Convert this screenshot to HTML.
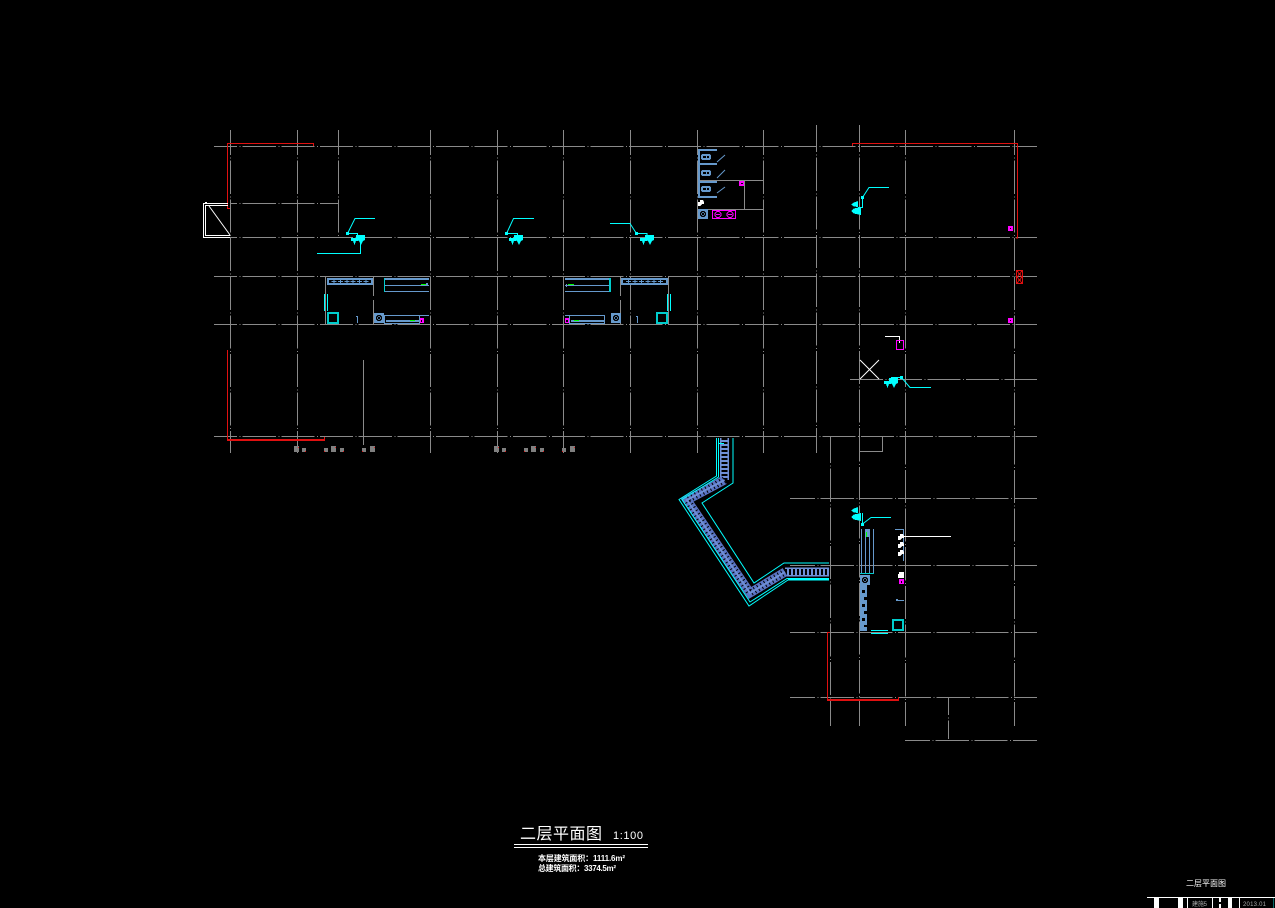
<!DOCTYPE html>
<html lang="zh">
<head>
<meta charset="utf-8">
<title>二层平面图</title>
<style>
html,body{margin:0;padding:0;background:#000;width:1275px;height:908px;overflow:hidden}
svg{display:block;position:absolute;left:0;top:0}
.g{stroke:#8a8a8a;stroke-width:1;fill:none;stroke-dasharray:33.15 2.5 1 2}
.n{stroke:#8a8a8a;stroke-width:1;fill:none}
.o0{stroke-dashoffset:0}.o6{stroke-dashoffset:6}.o8{stroke-dashoffset:8}.o10{stroke-dashoffset:10}.o15{stroke-dashoffset:15}.o26{stroke-dashoffset:26}
.c{stroke:#00ffff;stroke-width:1;fill:none}
.t{stroke:#00cccc;stroke-width:1;fill:none}
.b{stroke:#6699cc;stroke-width:1;fill:none}
.r{stroke:#e01010;stroke-width:1;fill:none}
.w{stroke:#fff;stroke-width:1;fill:none}
.m{stroke:#ff00ff;stroke-width:1;fill:none}
text{font-family:"Liberation Sans","Noto Sans CJK SC",sans-serif;fill:#fff}
</style>
</head>
<body>
<svg width="1275" height="908" viewBox="0 0 1275 908" xmlns="http://www.w3.org/2000/svg" shape-rendering="crispEdges">
<defs>
  <g id="hyd"><polygon points="0,3 7,3 7,6 5,6 3.500,10 2,6 0,6" fill="#0ff"/><polygon points="5,0 14,0 14,5 12,6 10,10 8,6 5,5" fill="#0ff"/></g>
  <g id="hyl"><polygon points="7,0 7,6 3,5.500 0,3.500 3,1.500" fill="#0ff"/><polygon points="10,6 10,14 3,12.500 0,10 3,7.500" fill="#0ff"/></g>
  <g id="sq"><rect x="0" y="0" width="10" height="10" fill="#6699cc"/><circle cx="5" cy="5" r="2.600" fill="none" stroke="#000"/><path d="M3 3L7 7M7 3L3 7" stroke="#000"/></g>
  <g id="toi"><rect x="0" y="0" width="10" height="6" rx="2" fill="#6699cc"/><rect x="2" y="2" width="3" height="2" fill="#000"/><rect x="6" y="2" width="2" height="2" fill="#000"/></g>
  <g id="plus"><path d="M-2.500 0H2.500M0 -2V2" stroke="#6699cc"/></g>
  <path id="bl" d="M0 2H2V0H5L6 2V4H4L2 6H0Z" fill="#fff"/>
</defs>
<rect width="1275" height="908" fill="#000"/>

<!-- horizontal grid -->
<path class="g o10" d="M214 146.500H1037"/>
<path class="g o26" d="M230 237.500H1037"/>
<path class="g o10" d="M214 276.500H1037"/>
<path class="g o10" d="M214 324.500H1037"/>
<path class="g o10" d="M214 436.500H1037"/>
<path class="g o26" d="M230 203.500H339"/>
<path class="g o0" d="M850 379.500H1037"/>
<path class="g o8" d="M790 498.500H1037"/>
<path class="g o8" d="M790 565.500H1037"/>
<path class="g o8" d="M790 632.500H1037"/>
<path class="g o8" d="M790 697.500H1037"/>
<path class="g o8" d="M905 740.500H1037"/>

<!-- vertical grid -->
<path class="g o8" d="M230.500 130V453"/>
<path class="g o8" d="M297.500 130V453"/>
<path class="g o8" d="M338.500 130V237"/>
<path class="g o8" d="M430.500 130V453"/>
<path class="g o8" d="M497.500 130V453"/>
<path class="g o8" d="M563.500 130V453"/>
<path class="g o8" d="M630.500 130V453"/>
<path class="g o8" d="M697.500 130V453"/>
<path class="g o8" d="M763.500 130V453"/>
<path class="g o6" d="M816.500 125V453"/>
<path class="g o6" d="M859.500 125V726"/>
<path class="g o8" d="M905.500 130V726"/>
<path class="g o8" d="M1014.500 130V726"/>
<path class="g o6" d="M830.500 436V726"/>
<path class="g o15" d="M948.500 697V739"/>
<path class="n" d="M363.500 360V445"/>
<path class="n" d="M859 451.500H882.500V436"/>
<path class="n" d="M744.500 180V209M697 180.500H763M697 209.500H763"/>

<!-- unit greys -->
<path class="n" d="M325.500 276V324M373.500 276V296M373.500 300V324"/>
<path class="n" d="M620.500 276V296M620.500 300V324M668.500 276V324"/>

<!-- red -->
<path class="r" d="M230 208.500H227.500V143.500H313.500V146"/>
<path class="r" d="M227.500 350V440"/>
<rect x="227" y="439" width="98" height="2" fill="#e01010"/>
<path class="r" d="M324.500 437V440"/>
<path class="r" d="M852.500 146V143.500H1017.500V238H1016"/>
<rect class="r" x="1016.500" y="270.500" width="6" height="13"/>
<path class="r" d="M1017 271L1022 277L1017 283M1022 271L1017 277L1022 283"/>
<path class="r" d="M830 632.500H827.500V700"/>
<rect x="827" y="699" width="72" height="2" fill="#e01010"/>
<path class="r" d="M898.500 697V700"/>

<!-- door -->
<path class="w" d="M228 203.500H203.500V237.500H230M228 205.500H205.500V235.500H230"/>
<path class="w" d="M209 206L230 235" shape-rendering="auto"/>
<rect x="205" y="202" width="2" height="2" fill="#fff"/>

<!-- column markers -->
<g fill="#808080">
<rect x="294" y="446" width="5" height="6"/><rect x="302" y="448" width="4" height="4"/><rect x="324" y="448" width="4" height="4"/><rect x="331" y="446" width="5" height="6"/><rect x="340" y="448" width="4" height="4"/><rect x="362" y="448" width="4" height="4"/><rect x="370" y="446" width="5" height="6"/>
<rect x="494" y="446" width="5" height="6"/><rect x="502" y="448" width="4" height="4"/><rect x="524" y="448" width="4" height="4"/><rect x="531" y="446" width="5" height="6"/><rect x="540" y="448" width="4" height="4"/><rect x="562" y="448" width="4" height="4"/><rect x="570" y="446" width="5" height="6"/>
</g>
<g fill="#e02020">
<rect x="298" y="447" width="1" height="1"/><rect x="305" y="451" width="1" height="1"/><rect x="324" y="451" width="1" height="1"/><rect x="335" y="447" width="1" height="1"/><rect x="343" y="451" width="1" height="1"/><rect x="362" y="451" width="1" height="1"/><rect x="374" y="447" width="1" height="1"/>
<rect x="498" y="447" width="1" height="1"/><rect x="505" y="451" width="1" height="1"/><rect x="524" y="451" width="1" height="1"/><rect x="535" y="447" width="1" height="1"/><rect x="543" y="451" width="1" height="1"/><rect x="562" y="451" width="1" height="1"/><rect x="574" y="447" width="1" height="1"/>
</g>

<!-- cyan leaders and hydrants -->
<g shape-rendering="auto">
<path class="c" d="M375 218.500H355L347.500 233.500H357.500V236"/>
<path class="c" d="M360.500 237V253.500H317"/>
<path class="c" d="M534 218.500H513.500L506.500 233.500H517.500V236"/>
<path class="c" d="M610 223.500H630L636.500 233.500H647V236"/>
<path class="c" d="M889 187.500H869L862.500 197.500V207.500H858"/>
<path class="c" d="M931 387.500H910L901.500 377.500H891.500V380"/>
<path class="c" d="M891 517.500H871L862.500 524V513"/>
</g>
<rect x="346" y="232" width="3" height="3" fill="#0ff"/><rect x="505" y="232" width="3" height="3" fill="#0ff"/><rect x="635" y="232" width="3" height="3" fill="#0ff"/><rect x="861" y="196" width="3" height="3" fill="#0ff"/><rect x="900" y="376" width="3" height="3" fill="#0ff"/><rect x="861" y="523" width="3" height="3" fill="#0ff"/>
<use href="#hyd" x="351" y="235"/>
<use href="#hyd" x="509" y="235"/>
<use href="#hyd" x="640" y="235"/>
<use href="#hyd" x="884" y="378"/>
<use href="#hyl" x="851" y="201"/>
<use href="#hyl" x="851" y="507"/>

<!-- left unit -->
<rect x="327" y="278" width="46" height="7" fill="#6699cc"/><rect x="329" y="280" width="42" height="3" fill="#000"/>
<use href="#plus" x="334" y="281.500"/><use href="#plus" x="340.500" y="281.500"/><use href="#plus" x="347" y="281.500"/><use href="#plus" x="353" y="281.500"/><use href="#plus" x="359.500" y="281.500"/><use href="#plus" x="366" y="281.500"/>
<path class="b" d="M384 278.500H429M384 279.500H429M384 285.500H429M384 291.500H429"/>
<path class="t" d="M384.500 278V292"/>
<rect x="421" y="284" width="5" height="1" fill="#00ff00"/>
<rect x="426" y="283" width="2" height="3" fill="#6699cc"/>
<rect x="384.500" y="315.500" width="35" height="8" class="b"/>
<path class="b" d="M386 320.500H419M386 321.500H419M419 315.500H429"/>
<rect x="410" y="320" width="5" height="1" fill="#00ff00"/>
<rect x="420" y="318" width="4" height="5" fill="#ff00ff"/><rect x="421" y="320" width="1" height="2" fill="#000"/>
<use href="#sq" x="374" y="313"/>
<rect x="328" y="313" width="10" height="10" fill="none" stroke="#00cccc" stroke-width="2"/>
<path class="c" d="M324.500 294V311M327.500 294V311"/>
<path class="b" d="M356 316.500H357.500V323"/>

<!-- right unit -->
<rect x="621" y="278" width="47" height="7" fill="#6699cc"/><rect x="623" y="280" width="43" height="3" fill="#000"/>
<use href="#plus" x="628.500" y="281.500"/><use href="#plus" x="635" y="281.500"/><use href="#plus" x="641.500" y="281.500"/><use href="#plus" x="648" y="281.500"/><use href="#plus" x="654" y="281.500"/><use href="#plus" x="660.500" y="281.500"/>
<path class="b" d="M565 278.500H610M565 279.500H610M565 285.500H610M565 291.500H610"/>
<path class="t" d="M610.500 278V292M609.500 278V292"/>
<rect x="568" y="284" width="6" height="1" fill="#00ff00"/>
<rect x="566" y="284" width="1" height="3" fill="#6699cc"/>
<rect x="569.500" y="315.500" width="35" height="8" class="b"/>
<path class="b" d="M571 320.500H604M571 321.500H604M565 315.500H569"/>
<rect x="574" y="320" width="5" height="1" fill="#00ff00"/>
<rect x="565" y="318" width="4" height="5" fill="#ff00ff"/><rect x="566" y="320" width="2" height="2" fill="#000"/>
<use href="#sq" x="611" y="313"/>
<rect x="657" y="313" width="10" height="10" fill="none" stroke="#00cccc" stroke-width="2"/>
<path class="c" d="M667.500 294V311M670.500 294V311"/>
<path class="b" d="M636 316.500H637.500V323"/>

<!-- toilets -->
<rect x="698" y="149" width="2" height="48" fill="#6699cc"/>
<rect x="698" y="149" width="19" height="2" fill="#6699cc"/><rect x="698" y="163" width="19" height="2" fill="#6699cc"/><rect x="698" y="181" width="19" height="2" fill="#6699cc"/><rect x="698" y="196" width="19" height="2" fill="#6699cc"/>
<use href="#toi" x="701" y="154"/><use href="#toi" x="701" y="170"/><use href="#toi" x="701" y="186"/>
<path class="b" d="M717 162L725 155M717 178L725 170M717 193L725 187" shape-rendering="auto"/>
<rect x="739" y="181" width="5" height="5" fill="#ff00ff"/><rect x="741" y="183" width="2" height="1" fill="#000"/>
<use href="#bl" x="698" y="200"/>
<use href="#sq" x="698" y="209"/>
<rect x="712.500" y="210.500" width="23" height="8" class="m"/>
<circle cx="718" cy="214.500" r="3" class="m"/><circle cx="730" cy="214.500" r="3" class="m"/>
<path class="m" d="M716 214.500H720M728 214.500H732"/>

<!-- right side pieces -->
<rect x="1008" y="226" width="5" height="5" fill="#ff00ff"/><rect x="1010" y="228" width="1" height="1" fill="#000"/>
<rect x="1008" y="318" width="5" height="5" fill="#ff00ff"/><rect x="1010" y="320" width="1" height="1" fill="#000"/>
<path class="w" d="M885 336.500H899.500V343"/>
<rect x="896.500" y="340.500" width="7" height="9" class="m"/>
<path class="w" d="M860 360L879 379M879 360L860 379" shape-rendering="auto"/>

<!-- corridor -->
<g shape-rendering="auto" fill="none" stroke-linejoin="miter">
<path d="M724.500 438V480M785 572H829" stroke="#6f8fd6" stroke-width="9"/>
<path d="M724.500 438V480M785 572H829" stroke="#000" stroke-width="6" stroke-dasharray="2 2"/>
<path d="M724.500 480L687 500L750 593L785 572" stroke="#5a74c4" stroke-width="9"/>
<path d="M724.500 480L687 500L750 593L785 572" stroke="#000" stroke-width="7" stroke-dasharray="1 3"/>
<path d="M724.500 480L687 500L750 593L785 572" stroke="#6f8fd6" stroke-width="2"/>
<path d="M716.500 438V476L679 499.500L749 606L788 580H829" class="c"/>
<path d="M718.500 438V477L682 499.500L750 602L787 578.500H829" class="c"/>
<path d="M733 438V483L702 503L754 583L784 563H829" class="c"/>
</g>
<rect x="788" y="578" width="41" height="2" fill="#0ff"/>
<rect x="718" y="443" width="6" height="1" fill="#0ff"/>

<!-- stair room -->
<path class="b" d="M861.500 529V573M865.500 529V573M869.500 529V573M873.500 529V573"/>
<rect x="865" y="529" width="4" height="8" fill="#6699cc"/>
<rect x="866" y="532" width="1" height="5" fill="#00ff00"/>
<path class="t" d="M860 573.500H874"/>
<path class="b" d="M895 529.500H903.500V561"/>
<use href="#bl" x="898" y="534"/><use href="#bl" x="898" y="542"/><use href="#bl" x="898" y="550"/><use href="#bl" x="898" y="572"/>
<rect x="899" y="572" width="5" height="6" fill="#fff"/>
<path class="w" d="M903 536.500H951"/>
<rect x="899" y="579" width="5" height="5" fill="#ff00ff"/><rect x="901" y="581" width="1" height="2" fill="#000"/>
<use href="#sq" x="860" y="575"/>
<rect x="860" y="585" width="7" height="46" fill="#6699cc"/>
<g fill="#000"><rect x="862" y="590" width="3" height="3"/><rect x="864" y="597" width="3" height="3"/><rect x="862" y="604" width="3" height="3"/><rect x="864" y="611" width="3" height="3"/><rect x="862" y="618" width="3" height="3"/><rect x="864" y="625" width="3" height="2"/></g>
<path class="b" d="M896 600.500H904"/><rect x="896" y="599" width="2" height="2" fill="#6699cc"/>
<rect x="893" y="620" width="10" height="10" fill="none" stroke="#00cccc" stroke-width="2"/>
<path class="c" d="M871 630.500H888M871 633.500H888"/>

<!-- title -->
<text x="520" y="839" font-size="16" textLength="82" lengthAdjust="spacing">二层平面图</text>
<text x="613" y="839" font-size="11" textLength="30" lengthAdjust="spacing">1:100</text>
<rect x="514" y="844" width="134" height="1" fill="#fff"/>
<rect x="514" y="847" width="134" height="1" fill="#fff"/>
<text x="538" y="861" font-size="8" font-weight="bold" textLength="87" lengthAdjust="spacing">本层建筑面积：1111.6m²</text>
<text x="538" y="871" font-size="8" font-weight="bold" textLength="78" lengthAdjust="spacing">总建筑面积：3374.5m²</text>

<!-- title block -->
<text x="1186" y="886" font-size="8" textLength="40" lengthAdjust="spacing">二层平面图</text>
<rect x="1147" y="897" width="128" height="1" fill="#fff"/>
<g fill="#fff">
<rect x="1154" y="898" width="5" height="10"/><rect x="1178" y="898" width="5" height="10"/><rect x="1187" y="898" width="1" height="10"/><rect x="1212" y="898" width="1" height="10"/><rect x="1219" y="898" width="2" height="4"/><rect x="1219" y="904" width="2" height="4"/><rect x="1228" y="898" width="4" height="10"/><rect x="1239" y="898" width="1" height="10"/>
</g>
<text x="1192" y="906" font-size="6" style="fill:#aaa" textLength="15" lengthAdjust="spacing">建施5</text>
<text x="1243" y="906" font-size="6" style="fill:#aaa" textLength="23" lengthAdjust="spacing">2013.01</text>
<rect x="1273" y="898" width="1" height="10" fill="#0a6a6a"/>
</svg>
</body>
</html>
